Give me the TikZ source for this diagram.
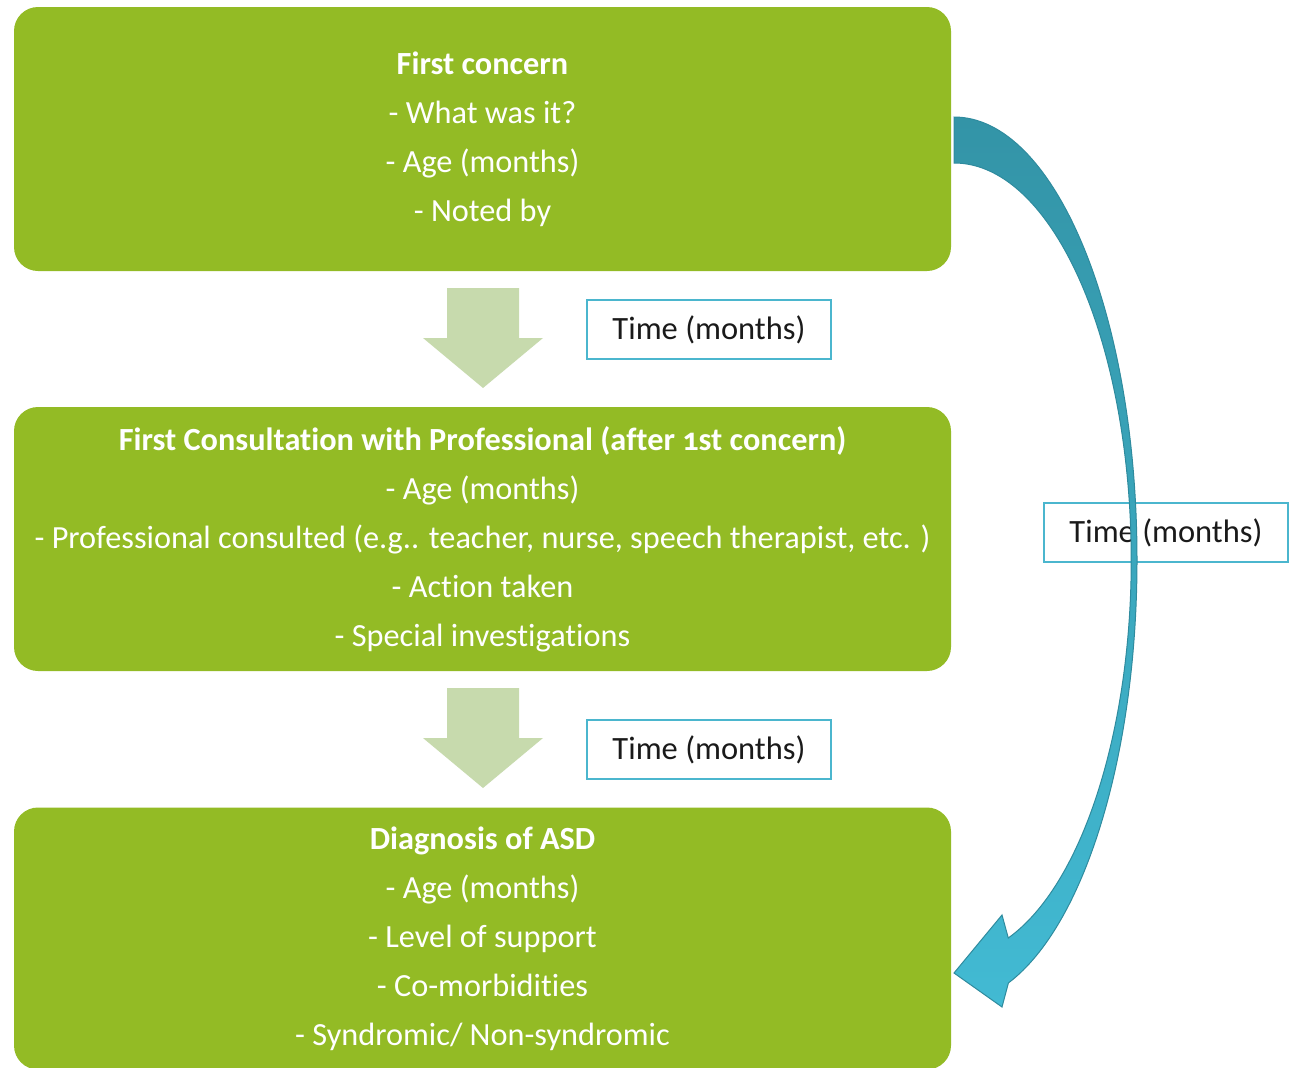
\documentclass[tikz,border=0pt]{standalone}
\usepackage{fontspec}
\setmainfont{Carlito}[Numbers=OldStyle, Ligatures=NoCommon]
\definecolor{boxgreen}{HTML}{93BB25}
\definecolor{arrowgreen}{HTML}{C7DAAD}
\definecolor{timecyan}{HTML}{4BB6CE}
\definecolor{textgray}{HTML}{1A1A1A}
\definecolor{tealtop}{HTML}{3394A7}
\definecolor{tealbot}{HTML}{42BAD3}
\definecolor{tealline}{HTML}{2F8B9E}
\begin{document}
\begin{tikzpicture}[x=1pt,y=1pt,
  gbox/.style={rounded corners=24pt, fill=boxgreen, minimum width=937pt, text=white, align=center, font=\fontsize{32.3}{49}\selectfont, inner sep=0pt},
  tbox/.style={draw=timecyan, line width=2pt, fill=white, minimum width=244pt, minimum height=59pt, font=\fontsize{32.5}{37}\selectfont, text=textgray, inner sep=0pt},
  blockarrow/.style={fill=arrowgreen},
  curvearrow/.style={top color=tealtop, bottom color=tealbot, draw=tealline, line width=1pt}]
\useasboundingbox (0,0) rectangle (1294,-1068);
% boxes
\node[gbox, minimum height=264pt] (b1) at (482.5,-139) {\textbf{First concern}\\- What was it?\\- Age (months)\\- Noted by};
\node[gbox, minimum height=264pt] (b2) at (482.5,-539) {\textbf{First Consultation with Professional (after 1st concern)}\\- Age (months)\\- Professional consulted (e.g.. teacher, nurse, speech therapist, etc. )\\- Action taken\\- Special investigations};
\node[gbox, minimum height=262pt] (b3) at (482.5,-938.5) {\textbf{Diagnosis of ASD}\\- Age (months)\\- Level of support\\- Co-morbidities\\- Syndromic/ Non-syndromic};
% block arrows
\fill[blockarrow] (447,-288) -- (519,-288) -- (519,-338) -- (543,-338) -- (483,-388) -- (423,-338) -- (447,-338) -- cycle;
\fill[blockarrow] (447,-688) -- (519,-688) -- (519,-738) -- (543,-738) -- (483,-788) -- (423,-738) -- (447,-738) -- cycle;
% time labels
\node[tbox] (t1) at (709,-329.5) {Time (months)};
\node[tbox] (t2) at (709,-749.5) {Time (months)};
\node[tbox] (t3) at (1166,-532.5) {Time (months)};
% curved arrow
\path[curvearrow] (954,-117) arc[start angle=90, end angle=-72.7, x radius=183, y radius=443]
  -- (1002,-1007) -- (954,-973) -- (1002,-915) -- (1008.3,-938)
  arc[start angle=-72.2, end angle=90, x radius=177, y radius=397] -- cycle;
\end{tikzpicture}
\end{document}
